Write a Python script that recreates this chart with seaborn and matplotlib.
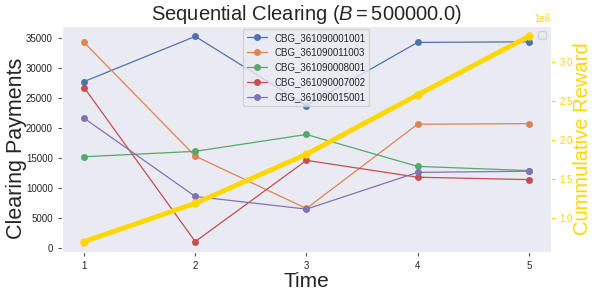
import numpy as np
import pandas as pd
import matplotlib
matplotlib.use("Agg")
import matplotlib.pyplot as plt
import seaborn as sns

# data
time = [1, 2, 3, 4, 5]
cbg_names = ["CBG_361090001001", "CBG_361090011003", "CBG_361090008001",
             "CBG_361090007002", "CBG_361090015001"]
pay_001001 = [27700, 35200, 23700, 34200, 34300]
pay_011003 = [34200, 15300, 6600, 20600, 20700]
pay_008001 = [15200, 16100, 18900, 13600, 12900]
pay_007002 = [26700, 1100, 14600, 11800, 11400]
pay_015001 = [21600, 8600, 6500, 12600, 12800]
reward = [0.70e6, 1.19e6, 1.82e6, 2.58e6, 3.33e6]

payments = [pay_001001, pay_011003, pay_008001, pay_007002, pay_015001]
df = pd.DataFrame({
    "Time": np.tile(time, len(cbg_names)),
    "Payment": np.concatenate(payments),
    "CBG": np.repeat(cbg_names, len(time)),
})
reward_df = pd.DataFrame({"Time": time, "Reward": reward})

sns.set_style("dark", {"xtick.bottom": True, "ytick.left": True})
plt.rcParams["font.family"] = ["Liberation Sans", "DejaVu Sans"]
plt.rcParams["mathtext.fontset"] = "custom"
plt.rcParams["mathtext.rm"] = "Liberation Sans"
plt.rcParams["mathtext.it"] = "Liberation Sans:italic"

fig = plt.figure(figsize=(5.95, 2.97), dpi=100)
ax = fig.add_axes([0.104, 0.152, 0.822, 0.76])

sns.lineplot(data=df, x="Time", y="Payment", hue="CBG", palette="deep",
             marker="o", markersize=5, markeredgewidth=0, linewidth=0.9, ax=ax)
ax.set_xticks(time)
ax.tick_params(labelsize=7, length=3, color="#555555")
ax.set_xlabel("Time", fontsize=15, labelpad=1)
ax.set_ylabel("Clearing Payments", fontsize=15.5)
ax.yaxis.set_label_coords(-0.072, 0.46)
ax.set_title(r"Sequential Clearing ($B = 500000.0$)", fontsize=14.5, pad=4)
ax.legend(loc="upper center", fontsize=7, bbox_to_anchor=(0.5, 1.01))

ax2 = ax.twinx()
sns.lineplot(data=reward_df, x="Time", y="Reward", color="gold", marker="o",
             markersize=6, markeredgewidth=0, linewidth=3.5, ax=ax2)
ax2.set_ylabel("Cummulative Reward", fontsize=14.5, color="gold", labelpad=0)
ax2.tick_params(axis="y", labelsize=7, colors="gold", length=3, pad=3)
ax2.yaxis.get_offset_text().set_color("gold")
ax2.yaxis.get_offset_text().set_fontsize(7)
ax2.legend(handles=[], loc="upper right", fontsize=7)

fig.savefig("out.png", dpi=100)
